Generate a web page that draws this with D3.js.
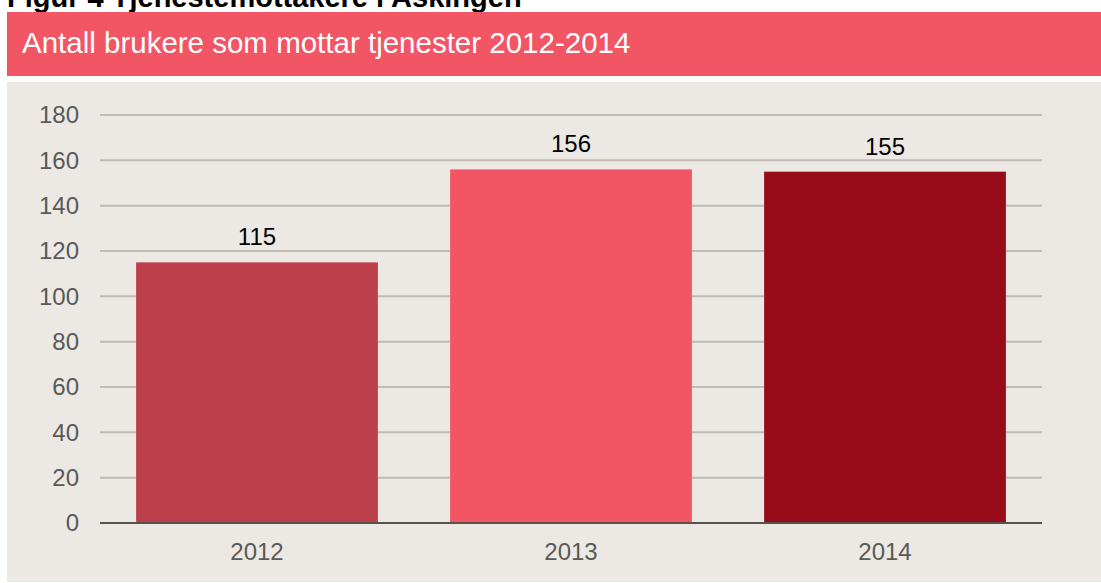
<!DOCTYPE html>
<html>
<head>
<meta charset="utf-8">
<script src="https://cdn.jsdelivr.net/npm/d3@7"></script>
<style>
  body { margin: 0; background: #fff; }
  svg { display: block; font-family: "Liberation Sans", Arial, sans-serif; }
</style>
</head>
<body>
<svg id="chart" width="1101" height="583"></svg>
<script>
// data
const years = ["2012", "2013", "2014"];
const users = [115, 156, 155];
const barColors = ["#BC404C", "#F25664", "#970C18"];
const yTicks = [0, 20, 40, 60, 80, 100, 120, 140, 160, 180];
const figTitle = "Figur 4 Tjenestemottakere i Askingen";
const subTitle = "Antall brukere som mottar tjenester 2012-2014";

const svg = d3.select("#chart");

// figure title, cut off by the top edge as in the reference
svg.append("text")
  .attr("x", 7).attr("y", 7)
  .attr("font-size", 29).attr("font-weight", "bold")
  .attr("fill", "#000")
  .text(figTitle);

// red header band
svg.append("rect")
  .attr("x", 7).attr("y", 12).attr("width", 1094).attr("height", 64)
  .attr("fill", "#F25664");
svg.append("text")
  .attr("x", 22).attr("y", 53)
  .attr("font-size", 29.5).attr("fill", "#fff")
  .text(subTitle);

// grey panel
svg.append("rect")
  .attr("x", 7).attr("y", 82).attr("width", 1094).attr("height", 500)
  .attr("fill", "#ECE9E4");

const plot = { left: 100, right: 1042, top: 115, bottom: 523 };

const x = d3.scaleBand()
  .domain(years)
  .range([plot.left, plot.right])
  .paddingInner(0.23)
  .paddingOuter(0.115);

const y = d3.scaleLinear()
  .domain([0, 180])
  .range([plot.bottom, plot.top]);

// gridlines
svg.append("g")
  .selectAll("line")
  .data(yTicks.filter(d => d > 0))
  .join("line")
  .attr("x1", plot.left).attr("x2", plot.right)
  .attr("y1", d => y(d)).attr("y2", d => y(d))
  .attr("stroke", "#C3BAB2").attr("stroke-width", 2);

// y tick labels
svg.append("g")
  .selectAll("text")
  .data(yTicks)
  .join("text")
  .attr("x", 79)
  .attr("y", d => y(d))
  .attr("dy", "0.35em")
  .attr("text-anchor", "end")
  .attr("font-size", 24)
  .attr("fill", "#595959")
  .text(d => d);

// bars
const data = years.map((yr, i) => ({ year: yr, value: users[i], color: barColors[i] }));

svg.append("g")
  .selectAll("rect")
  .data(data)
  .join("rect")
  .attr("x", d => x(d.year))
  .attr("width", x.bandwidth())
  .attr("y", d => y(d.value))
  .attr("height", d => y(0) - y(d.value))
  .attr("fill", d => d.color);

// value labels
svg.append("g")
  .selectAll("text")
  .data(data)
  .join("text")
  .attr("x", d => x(d.year) + x.bandwidth() / 2)
  .attr("y", d => y(d.value) - 17)
  .attr("text-anchor", "middle")
  .attr("font-size", 24)
  .attr("fill", "#000")
  .text(d => d.value);

// baseline
svg.append("line")
  .attr("x1", plot.left).attr("x2", plot.right)
  .attr("y1", y(0)).attr("y2", y(0))
  .attr("stroke", "#5A5050").attr("stroke-width", 2);

// x labels
svg.append("g")
  .selectAll("text")
  .data(years)
  .join("text")
  .attr("x", d => x(d) + x.bandwidth() / 2)
  .attr("y", 560)
  .attr("text-anchor", "middle")
  .attr("font-size", 24)
  .attr("fill", "#595959")
  .text(d => d);
</script>
</body>
</html>
